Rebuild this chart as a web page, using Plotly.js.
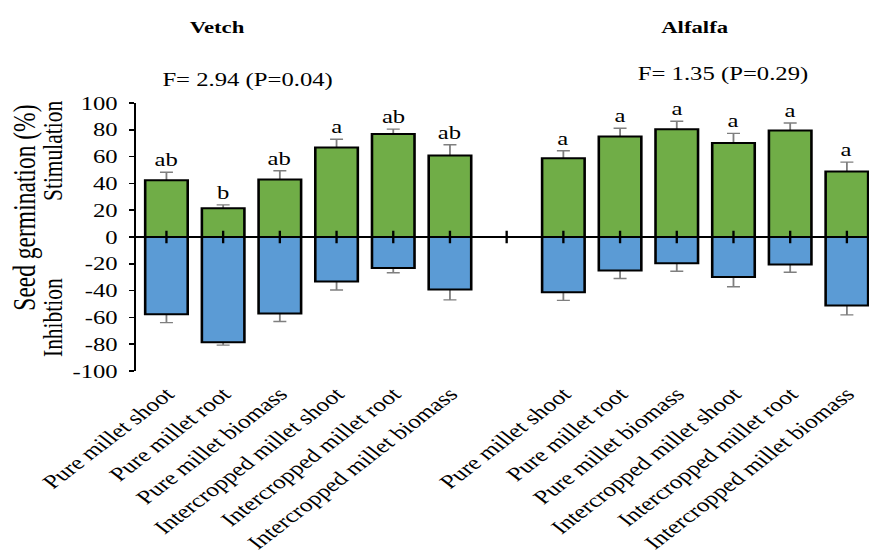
<!DOCTYPE html>
<html>
<head>
<meta charset="utf-8">
<script src="https://cdn.plot.ly/plotly-3.0.1.min.js"></script>
<style>
html,body{margin:0;padding:0;background:#fff;overflow:hidden;}
#chart{width:669px;height:558px;transform:scaleX(1.29895);transform-origin:0 0;}
</style>
</head>
<body>
<div id="chart"></div>
<script>
// ---- data ----
const treatments = ["Pure millet shoot","Pure millet root","Pure millet biomass","Intercropped millet shoot","Intercropped millet root","Intercropped millet biomass"];
const groups = ["Vetch","Alfalfa"];
const fStats = ["F= 2.94 (P=0.04)","F= 1.35 (P=0.29)"];

const vetchStim = [42.3, 21.5, 42.9, 66.7, 76.8, 60.8];
const vetchStimErr = [6.0, 2.5, 6.5, 6.3, 3.7, 8.0];
const vetchInhib = [-57.7, -78.5, -57.1, -33.3, -23.2, -39.2];
const vetchInhibErr = [6.2, 2.2, 6.0, 6.2, 3.5, 7.7];
const vetchLetters = ["ab","b","ab","a","ab","ab"];

const alfStim = [58.7, 75.0, 80.4, 70.1, 79.4, 48.9];
const alfStimErr = [5.7, 6.2, 6.0, 7.2, 5.7, 7.0];
const alfInhib = [-41.3, -25.0, -19.6, -29.9, -20.6, -51.1];
const alfInhibErr = [6.0, 6.0, 6.0, 7.2, 5.7, 7.0];
const alfLetters = ["a","a","a","a","a","a"];

const yTickVals = [-100, -80, -60, -40, -20, 0, 20, 40, 60, 80, 100];
const yTickText = ["-100","-80","-60","-40","-20","0","20","40","60","80","100"];

// ---- positions: vetch 0..5, gap slot, alfalfa 7..12 ----
const n = treatments.length;
const vetchX = treatments.map((_, i) => i);
const alfX = treatments.map((_, i) => i + n + 1);
const allX = vetchX.concat([n]).concat(alfX);
const tickText = treatments.concat([""]).concat(treatments);

const xs = vetchX.concat(alfX);
const stim = vetchStim.concat(alfStim);
const stimErr = vetchStimErr.concat(alfStimErr);
const inhib = vetchInhib.concat(alfInhib);
const inhibErr = vetchInhibErr.concat(alfInhibErr);
const letters = vetchLetters.concat(alfLetters);

// horizontal stretch of the whole figure (page is drawn at W/SX then scaled)
const SX = 869 / 669;
const FONT = "Liberation Serif, Times New Roman, serif";
const GREEN = "#70AD47";
const BLUE = "#5B9BD5";
const ERRC = "#7f7f7f";
const BW = 0.75;

const errStyle = {color: ERRC, thickness: 1.4, width: 5};
const traces = [
  // error bars first (drawn underneath the real bars, so only the outer half shows)
  {type: "bar", x: xs, y: stim, width: BW, marker: {color: "rgba(0,0,0,0)", line: {width: 0}},
   error_y: Object.assign({type: "data", array: stimErr}, errStyle), hoverinfo: "skip"},
  {type: "bar", x: xs, y: inhib, width: BW, marker: {color: "rgba(0,0,0,0)", line: {width: 0}},
   error_y: Object.assign({type: "data", array: inhibErr}, errStyle), hoverinfo: "skip"},
  {type: "bar", x: xs, y: stim, width: BW,
   marker: {color: GREEN, line: {color: "#000", width: 2}}, hoverinfo: "skip"},
  {type: "bar", x: xs, y: inhib, width: BW,
   marker: {color: BLUE, line: {color: "#000", width: 2}}, hoverinfo: "skip"},
  // category tick marks crossing the zero line
  {type: "scatter", mode: "markers", x: allX, y: allX.map(() => 0),
   marker: {symbol: "line-ns", size: 9, line: {color: "#000", width: 1.8}}, hoverinfo: "skip"}
];

const annotations = [];
xs.forEach((x, i) => {
  annotations.push({
    x: x, y: stim[i] + stimErr[i], xref: "x", yref: "y", yanchor: "bottom", yshift: 0,
    text: letters[i], showarrow: false, font: {family: FONT, size: 19, color: "#000"}
  });
});
// pixel-placed texts (final picture pixels)
const px = [];
px.push({x: 218, y: 27, text: "<b>" + groups[0] + "</b>", size: 17.5});
px.push({x: 695, y: 27, text: "<b>" + groups[1] + "</b>", size: 17.5});
px.push({x: 248.5, y: 80, text: fStats[0], size: 19});
px.push({x: 723, y: 74, text: fStats[1], size: 19});
px.push({x: 25, y: 208, text: "Seed germination (%)", size: 23.5, angle: -90});
px.push({x: 54, y: 151, text: "Stimulation", size: 21.5, angle: -90});
px.push({x: 54, y: 318, text: "Inhibtion", size: 21.5, angle: -90});

const W = 669, H = 558, ML = 137 / SX, MR = 0, MT = 103, MB = 187;
const PW = W - ML - MR, PH = H - MT - MB;
px.forEach(p => {
  annotations.push({
    x: (p.x / SX - ML) / PW, y: (H - MB - p.y) / PH, xref: "paper", yref: "paper",
    xanchor: "center", yanchor: "middle", text: p.text, textangle: p.angle || 0,
    showarrow: false, font: {family: FONT, size: p.size, color: "#000"}
  });
});

const layout = {
  width: W, height: H,
  margin: {l: ML, r: MR, t: MT, b: MB, pad: 0},
  paper_bgcolor: "#fff", plot_bgcolor: "#fff",
  barmode: "overlay",
  showlegend: false,
  font: {family: FONT, size: 19, color: "#000"},
  xaxis: {
    range: [-0.53 , 12.39],
    tickmode: "array", tickvals: allX, ticktext: tickText,
    tickangle: -45, ticks: "", showline: false, showgrid: false, zeroline: false,
    ticklabelstandoff: 7,
    tickfont: {family: FONT, size: 19.5, color: "#000"},
    automargin: false
  },
  yaxis: {
    range: [-100, 100],
    tickmode: "array", tickvals: yTickVals, ticktext: yTickText,
    ticks: "outside", ticklen: 4, tickwidth: 1.6, tickcolor: "#000",
    showline: true, linecolor: "#000", linewidth: 1.6,
    showgrid: false, zeroline: true, zerolinecolor: "#000", zerolinewidth: 1.6,
    ticklabelstandoff: 5,
    tickfont: {family: FONT, size: 19, color: "#000"},
    automargin: false
  },
  annotations: annotations
};

Plotly.newPlot("chart", traces, layout, {displayModeBar: false, staticPlot: true});
</script>
</body>
</html>
